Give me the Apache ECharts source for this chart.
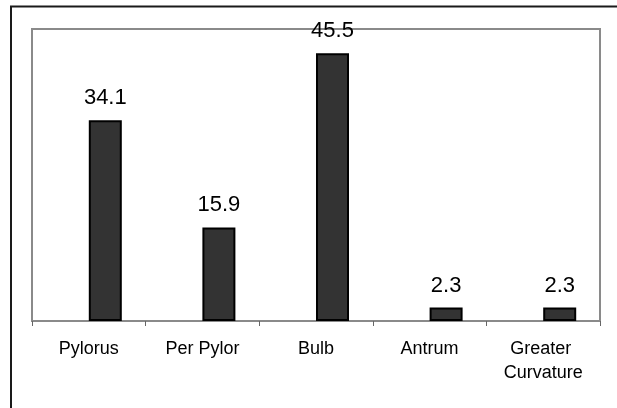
<!DOCTYPE html>
<html>
<head>
<meta charset="utf-8">
<script src="https://cdn.jsdelivr.net/npm/echarts@6/dist/echarts.min.js"></script>
<style>
  html, body { margin: 0; padding: 0; background: #fff; }
  #chart { width: 617px; height: 408px; }
</style>
</head>
<body>
<div id="chart"></div>
<script>
// Locations and their shares (%)
const categories = ['Pylorus', 'Per Pylor', 'Bulb', 'Antrum', 'Greater Curvature'];
const shares = [34.1, 15.9, 45.5, 2.3, 2.3];
// Empty companion series: keeps each bar on the right half of its slot
const emptySeries = [null, null, null, null, null];

const FONT = '"Liberation Sans", Arial, sans-serif';

const chart = echarts.init(document.getElementById('chart'), null, { renderer: 'canvas' });

chart.setOption({
  animation: false,
  backgroundColor: '#ffffff',
  textStyle: { fontFamily: FONT },
  graphic: [{
    type: 'rect',
    silent: true,
    shape: { x: 11, y: 6.5, width: 700, height: 500 },
    style: { fill: 'none', stroke: '#1a1a1a', lineWidth: 2 }
  }],
  grid: {
    left: 32, right: 17, top: 29, bottom: 87,
    show: true,
    borderColor: '#8a8a8a',
    borderWidth: 2,
    backgroundColor: 'transparent'
  },
  xAxis: {
    type: 'category',
    data: categories,
    boundaryGap: true,
    axisLine: { lineStyle: { color: '#8a8a8a', width: 2 } },
    axisTick: { show: true, length: 5, lineStyle: { color: '#666', width: 1 } },
    axisLabel: {
      color: '#000',
      fontFamily: FONT,
      fontSize: 18,
      lineHeight: 24,
      margin: 16,
      interval: 0,
      width: 105,
      overflow: 'break'
    },
    splitLine: { show: false }
  },
  yAxis: {
    type: 'value',
    min: 0,
    max: 49.6,
    show: false,
    splitLine: { show: false }
  },
  series: [
    {
      type: 'bar',
      data: emptySeries,
      barWidth: 33,
      barGap: '0%'
    },
    {
      type: 'bar',
      data: shares,
      barWidth: 33,
      barGap: '0%',
      itemStyle: { color: '#333333', borderColor: '#000', borderWidth: 2 },
      label: {
        show: true,
        position: 'top',
        distance: 11,
        color: '#000',
        fontFamily: FONT,
        fontSize: 22,
        formatter: p => p.value.toFixed(1)
      }
    }
  ]
});
</script>
</body>
</html>
